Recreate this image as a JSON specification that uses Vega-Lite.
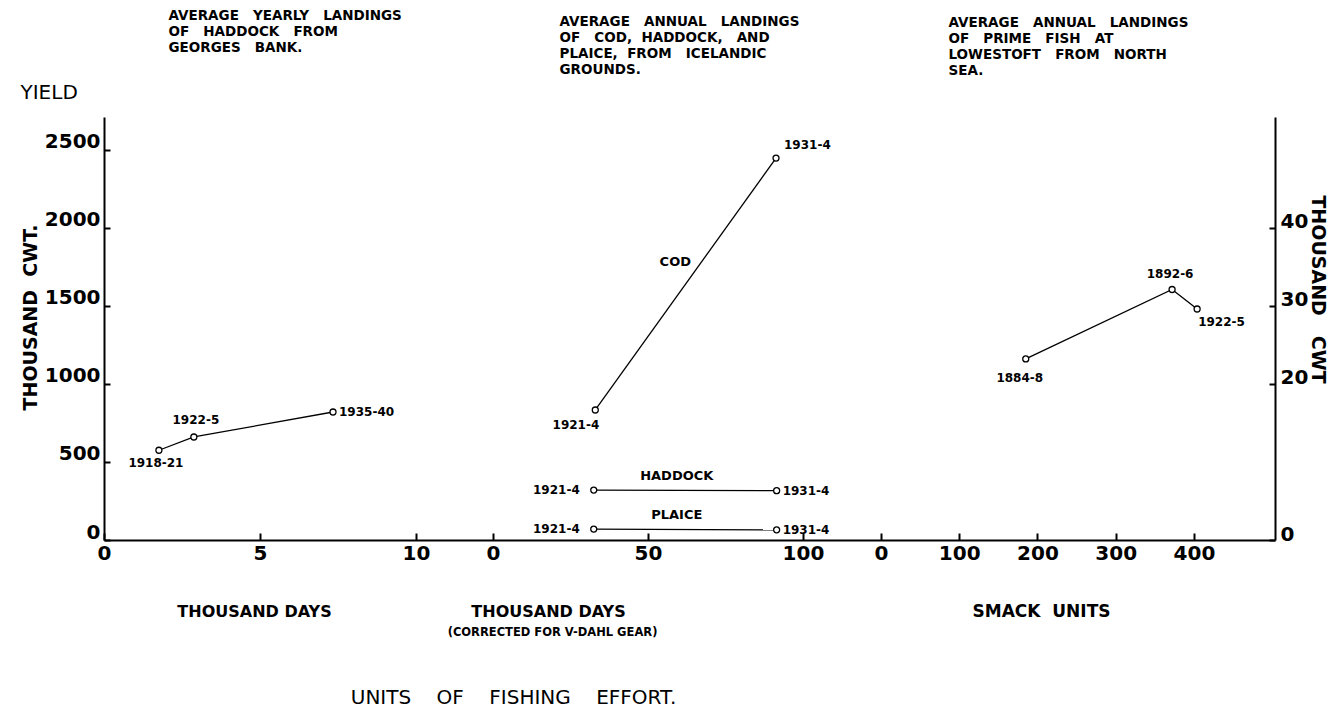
{
  "$schema": "https://vega.github.io/schema/vega-lite/v6.json",
  "width": 1171,
  "height": 423,
  "autosize": {"type": "none"},
  "padding": {"left": 104, "top": 117, "right": 63, "bottom": 181},
  "background": "white",
  "config": {
    "view": {"stroke": null},
    "font": "DejaVu Sans",
    "axis": {
      "grid": false,
      "domainColor": "black",
      "tickColor": "black",
      "labelColor": "black",
      "titleColor": "black",
      "domainWidth": 2,
      "tickWidth": 2,
      "labelFont": "DejaVu Sans",
      "titleFont": "DejaVu Sans",
      "labelFontSize": 20,
      "labelFontWeight": "bold",
      "labelFlush": false,
      "titleFontSize": 19,
      "titleFontWeight": "bold"
    },
    "text": {"font": "DejaVu Sans", "color": "black"}
  },
  "datasets": {
    "georges": [
      {"period": "1918-21", "effort": 1.76, "landings": 575},
      {"period": "1922-5", "effort": 2.88, "landings": 660},
      {"period": "1935-40", "effort": 7.34, "landings": 820}
    ],
    "iceland": [
      {"species": "COD", "period": "1921-4", "effort": 33, "landings": 833},
      {"species": "COD", "period": "1931-4", "effort": 91.3, "landings": 2447},
      {"species": "HADDOCK", "period": "1921-4", "effort": 32.5, "landings": 320},
      {"species": "HADDOCK", "period": "1931-4", "effort": 91.5, "landings": 316},
      {"species": "PLAICE", "period": "1921-4", "effort": 32.5, "landings": 70},
      {"species": "PLAICE", "period": "1931-4", "effort": 91.5, "landings": 65}
    ],
    "lowestoft": [
      {"period": "1884-8", "effort": 185, "landings": 23.2},
      {"period": "1892-6", "effort": 372, "landings": 32.1},
      {"period": "1922-5", "effort": 404, "landings": 29.6}
    ]
  },
  "resolve": {
    "scale": {"x": "independent", "y": "independent"},
    "axis": {"x": "independent", "y": "independent"}
  },
  "layer": [
    {
      "data": {"name": "georges"},
      "mark": {"type": "line", "color": "black", "strokeWidth": 1.3},
      "encoding": {
        "x": {"field": "effort", "type": "quantitative",
              "scale": {"domain": [0, 37.532], "nice": false, "zero": false},
              "axis": {"orient": "bottom", "values": [0, 5, 10], "format": "d", "tickSize": -7, "labelPadding": 10,
                       "title": "THOUSAND DAYS", "titleX": 150, "titleY": 71, "titleBaseline": "middle",
                       "titleAlign": "center", "titleFontWeight": "bold", "titleFontSize": 16}},
        "y": {"field": "landings", "type": "quantitative",
              "scale": {"domain": [0, 2710], "nice": false, "zero": false},
              "axis": {"orient": "left", "values": [0, 500, 1000, 1500, 2000, 2500], "format": "d", "tickSize": -6,
                       "labelPadding": 10, "labelOffset": -8,
                       "title": "THOUSAND\u00a0\u00a0CWT.", "titleX": -74, "titleY": 200,
                       "titleBaseline": "middle", "titleAlign": "center", "titleAngle": -90}}
      }
    },
    {
      "data": {"name": "georges"},
      "mark": {"type": "point", "shape": "circle", "filled": true, "fill": "white", "stroke": "black", "strokeWidth": 1.3, "size": 36, "opacity": 1},
      "encoding": {
        "x": {"field": "effort", "type": "quantitative",
              "scale": {"domain": [0, 37.532], "nice": false, "zero": false},
              "axis": {"orient": "top", "labels": false, "ticks": false, "domain": false,
                       "title": ["AVERAGE\u00a0\u00a0\u00a0YEARLY\u00a0\u00a0\u00a0LANDINGS", "OF\u00a0\u00a0\u00a0HADDOCK\u00a0\u00a0\u00a0FROM", "GEORGES\u00a0\u00a0\u00a0BANK."],
                       "titleX": 64, "titleY": -109, "titleAlign": "left", "titleBaseline": "top",
                       "titleLineHeight": 16, "titleFontSize": 13.5, "titleFontWeight": "bold"}},
        "y": {"field": "landings", "type": "quantitative",
              "scale": {"domain": [0, 2710], "nice": false, "zero": false},
              "axis": {"orient": "left", "labels": false, "ticks": false, "domain": false,
                       "title": "YIELD", "titleAngle": 0, "titleX": -84, "titleY": -25,
                       "titleAlign": "left", "titleBaseline": "middle", "titleFontSize": 20, "titleFontWeight": "normal"}}
      }
    },
    {
      "data": {"name": "georges"},
      "transform": [{"filter": "datum.period === '1918-21'"}],
      "mark": {"type": "text", "fontSize": 12, "fontWeight": "bold", "dx": -3, "dy": 13},
      "encoding": {
        "x": {"field": "effort", "type": "quantitative", "scale": {"domain": [0, 37.532], "nice": false, "zero": false}, "axis": null},
        "y": {"field": "landings", "type": "quantitative", "scale": {"domain": [0, 2710], "nice": false, "zero": false}, "axis": null},
        "text": {"field": "period"}
      }
    },
    {
      "data": {"name": "georges"},
      "transform": [{"filter": "datum.period === '1922-5'"}],
      "mark": {"type": "text", "fontSize": 12, "fontWeight": "bold", "dx": 2, "dy": -17},
      "encoding": {
        "x": {"field": "effort", "type": "quantitative", "scale": {"domain": [0, 37.532], "nice": false, "zero": false}, "axis": null},
        "y": {"field": "landings", "type": "quantitative", "scale": {"domain": [0, 2710], "nice": false, "zero": false}, "axis": null},
        "text": {"field": "period"}
      }
    },
    {
      "data": {"name": "georges"},
      "transform": [{"filter": "datum.period === '1935-40'"}],
      "mark": {"type": "text", "fontSize": 12, "fontWeight": "bold", "align": "left", "dx": 6, "dy": 0},
      "encoding": {
        "x": {"field": "effort", "type": "quantitative", "scale": {"domain": [0, 37.532], "nice": false, "zero": false}, "axis": null},
        "y": {"field": "landings", "type": "quantitative", "scale": {"domain": [0, 2710], "nice": false, "zero": false}, "axis": null},
        "text": {"field": "period"}
      }
    },
    {
      "data": {"name": "iceland"},
      "mark": {"type": "line", "color": "black", "strokeWidth": 1.3},
      "encoding": {
        "x": {"field": "effort", "type": "quantitative",
              "scale": {"domain": [-125.48, 252.26], "nice": false, "zero": false},
              "axis": {"orient": "bottom", "values": [0, 50, 100], "format": "d", "tickSize": -7, "labelPadding": 10, "domain": false,
                       "title": "THOUSAND DAYS", "titleX": 444, "titleY": 71, "titleBaseline": "middle",
                       "titleAlign": "center", "titleFontWeight": "bold", "titleFontSize": 16}},
        "y": {"field": "landings", "type": "quantitative", "scale": {"domain": [0, 2710], "nice": false, "zero": false}, "axis": null},
        "detail": {"field": "species", "type": "nominal"}
      }
    },
    {
      "data": {"name": "iceland"},
      "mark": {"type": "point", "shape": "circle", "filled": true, "fill": "white", "stroke": "black", "strokeWidth": 1.3, "size": 36, "opacity": 1},
      "encoding": {
        "x": {"field": "effort", "type": "quantitative",
              "scale": {"domain": [-125.48, 252.26], "nice": false, "zero": false},
              "axis": {"orient": "top", "labels": false, "ticks": false, "domain": false,
                       "title": ["AVERAGE\u00a0\u00a0\u00a0ANNUAL\u00a0\u00a0\u00a0LANDINGS", "OF\u00a0\u00a0\u00a0COD,\u00a0\u00a0HADDOCK,\u00a0\u00a0\u00a0AND", "PLAICE,\u00a0\u00a0FROM\u00a0\u00a0\u00a0ICELANDIC", "GROUNDS."],
                       "titleX": 455, "titleY": -103, "titleAlign": "left", "titleBaseline": "top",
                       "titleLineHeight": 16, "titleFontSize": 13.5, "titleFontWeight": "bold"}},
        "y": {"field": "landings", "type": "quantitative", "scale": {"domain": [0, 2710], "nice": false, "zero": false}, "axis": null}
      }
    },
    {
      "data": {"name": "iceland"},
      "transform": [{"filter": "datum.species === 'COD' && datum.period === '1921-4'"}],
      "mark": {"type": "text", "fontSize": 12, "fontWeight": "bold", "align": "right", "dx": 4, "dy": 15},
      "encoding": {
        "x": {"field": "effort", "type": "quantitative",
              "scale": {"domain": [-125.48, 252.26], "nice": false, "zero": false},
              "axis": {"orient": "bottom", "labels": false, "ticks": false, "domain": false,
                       "title": "(CORRECTED FOR V-DAHL GEAR)", "titleX": 448, "titleY": 92,
                       "titleBaseline": "middle", "titleAlign": "center", "titleFontSize": 11.5, "titleFontWeight": "bold"}},
        "y": {"field": "landings", "type": "quantitative", "scale": {"domain": [0, 2710], "nice": false, "zero": false}, "axis": null},
        "text": {"field": "period"}
      }
    },
    {
      "data": {"name": "iceland"},
      "transform": [{"filter": "datum.species === 'COD' && datum.period === '1931-4'"}],
      "mark": {"type": "text", "fontSize": 12, "fontWeight": "bold", "align": "left", "dx": 8, "dy": -13},
      "encoding": {
        "x": {"field": "effort", "type": "quantitative", "scale": {"domain": [-125.48, 252.26], "nice": false, "zero": false}, "axis": null},
        "y": {"field": "landings", "type": "quantitative", "scale": {"domain": [0, 2710], "nice": false, "zero": false}, "axis": null},
        "text": {"field": "period"}
      }
    },
    {
      "data": {"name": "iceland"},
      "transform": [{"filter": "datum.species !== 'COD' && datum.period === '1921-4'"}],
      "mark": {"type": "text", "fontSize": 12, "fontWeight": "bold", "align": "right", "dx": -14, "dy": 0},
      "encoding": {
        "x": {"field": "effort", "type": "quantitative", "scale": {"domain": [-125.48, 252.26], "nice": false, "zero": false}, "axis": null},
        "y": {"field": "landings", "type": "quantitative", "scale": {"domain": [0, 2710], "nice": false, "zero": false}, "axis": null},
        "text": {"field": "period"}
      }
    },
    {
      "data": {"name": "iceland"},
      "transform": [{"filter": "datum.species !== 'COD' && datum.period === '1931-4'"}],
      "mark": {"type": "text", "fontSize": 12, "fontWeight": "bold", "align": "left", "dx": 6, "dy": 0},
      "encoding": {
        "x": {"field": "effort", "type": "quantitative", "scale": {"domain": [-125.48, 252.26], "nice": false, "zero": false}, "axis": null},
        "y": {"field": "landings", "type": "quantitative", "scale": {"domain": [0, 2710], "nice": false, "zero": false}, "axis": null},
        "text": {"field": "period"}
      }
    },
    {
      "data": {"name": "iceland"},
      "transform": [{"filter": "datum.species === 'COD' && datum.period === '1921-4'"}],
      "mark": {"type": "text", "fontSize": 13, "fontWeight": "bold", "dx": 80, "dy": -148},
      "encoding": {
        "x": {"field": "effort", "type": "quantitative",
              "scale": {"domain": [-125.48, 252.26], "nice": false, "zero": false},
              "axis": {"orient": "bottom", "labels": false, "ticks": false, "domain": false,
                       "title": "UNITS\u00a0\u00a0\u00a0\u00a0OF\u00a0\u00a0\u00a0\u00a0FISHING\u00a0\u00a0\u00a0\u00a0EFFORT.", "titleX": 409, "titleY": 157,
                       "titleBaseline": "middle", "titleAlign": "center", "titleFontSize": 20, "titleFontWeight": "normal"}},
        "y": {"field": "landings", "type": "quantitative", "scale": {"domain": [0, 2710], "nice": false, "zero": false}, "axis": null},
        "text": {"field": "species"}
      }
    },
    {
      "data": {"name": "iceland"},
      "transform": [{"filter": "datum.species !== 'COD' && datum.period === '1921-4'"}],
      "mark": {"type": "text", "fontSize": 13, "fontWeight": "bold", "dx": 83, "dy": -14},
      "encoding": {
        "x": {"field": "effort", "type": "quantitative", "scale": {"domain": [-125.48, 252.26], "nice": false, "zero": false}, "axis": null},
        "y": {"field": "landings", "type": "quantitative", "scale": {"domain": [0, 2710], "nice": false, "zero": false}, "axis": null},
        "text": {"field": "species"}
      }
    },
    {
      "data": {"name": "lowestoft"},
      "mark": {"type": "line", "color": "black", "strokeWidth": 1.3},
      "encoding": {
        "x": {"field": "effort", "type": "quantitative",
              "scale": {"domain": [-992.97, 503.52], "nice": false, "zero": false},
              "axis": {"orient": "bottom", "values": [0, 100, 200, 300, 400], "format": "d", "tickSize": -7, "labelPadding": 10, "domain": false,
                       "title": "SMACK\u00a0\u00a0UNITS", "titleX": 937, "titleY": 71, "titleBaseline": "middle",
                       "titleAlign": "center", "titleFontWeight": "bold", "titleFontSize": 17}},
        "y": {"field": "landings", "type": "quantitative",
              "scale": {"domain": [0, 54.2], "nice": false, "zero": false},
              "axis": {"orient": "right", "values": [0, 20, 30, 40], "format": "d", "tickSize": -6, "labelPadding": 11, "labelOffset": -6,
                       "title": "THOUSAND\u00a0\u00a0\u00a0CWT", "titleX": 42, "titleY": 172,
                       "titleBaseline": "middle", "titleAlign": "center", "titleAngle": 90}}
      }
    },
    {
      "data": {"name": "lowestoft"},
      "mark": {"type": "point", "shape": "circle", "filled": true, "fill": "white", "stroke": "black", "strokeWidth": 1.3, "size": 36, "opacity": 1},
      "encoding": {
        "x": {"field": "effort", "type": "quantitative",
              "scale": {"domain": [-992.97, 503.52], "nice": false, "zero": false},
              "axis": {"orient": "top", "labels": false, "ticks": false, "domain": false,
                       "title": ["AVERAGE\u00a0\u00a0\u00a0ANNUAL\u00a0\u00a0\u00a0LANDINGS", "OF\u00a0\u00a0\u00a0PRIME\u00a0\u00a0\u00a0FISH\u00a0\u00a0\u00a0AT", "LOWESTOFT\u00a0\u00a0\u00a0FROM\u00a0\u00a0\u00a0NORTH", "SEA."],
                       "titleX": 844, "titleY": -102, "titleAlign": "left", "titleBaseline": "top",
                       "titleLineHeight": 16, "titleFontSize": 13.5, "titleFontWeight": "bold"}},
        "y": {"field": "landings", "type": "quantitative", "scale": {"domain": [0, 54.2], "nice": false, "zero": false}, "axis": null}
      }
    },
    {
      "data": {"name": "lowestoft"},
      "transform": [{"filter": "datum.period === '1884-8'"}],
      "mark": {"type": "text", "fontSize": 12, "fontWeight": "bold", "dx": -6, "dy": 19},
      "encoding": {
        "x": {"field": "effort", "type": "quantitative", "scale": {"domain": [-992.97, 503.52], "nice": false, "zero": false}, "axis": null},
        "y": {"field": "landings", "type": "quantitative", "scale": {"domain": [0, 54.2], "nice": false, "zero": false}, "axis": null},
        "text": {"field": "period"}
      }
    },
    {
      "data": {"name": "lowestoft"},
      "transform": [{"filter": "datum.period === '1892-6'"}],
      "mark": {"type": "text", "fontSize": 12, "fontWeight": "bold", "dx": -2, "dy": -15},
      "encoding": {
        "x": {"field": "effort", "type": "quantitative", "scale": {"domain": [-992.97, 503.52], "nice": false, "zero": false}, "axis": null},
        "y": {"field": "landings", "type": "quantitative", "scale": {"domain": [0, 54.2], "nice": false, "zero": false}, "axis": null},
        "text": {"field": "period"}
      }
    },
    {
      "data": {"name": "lowestoft"},
      "transform": [{"filter": "datum.period === '1922-5'"}],
      "mark": {"type": "text", "fontSize": 12, "fontWeight": "bold", "align": "left", "dx": 1, "dy": 13},
      "encoding": {
        "x": {"field": "effort", "type": "quantitative", "scale": {"domain": [-992.97, 503.52], "nice": false, "zero": false}, "axis": null},
        "y": {"field": "landings", "type": "quantitative", "scale": {"domain": [0, 54.2], "nice": false, "zero": false}, "axis": null},
        "text": {"field": "period"}
      }
    }
  ]
}
